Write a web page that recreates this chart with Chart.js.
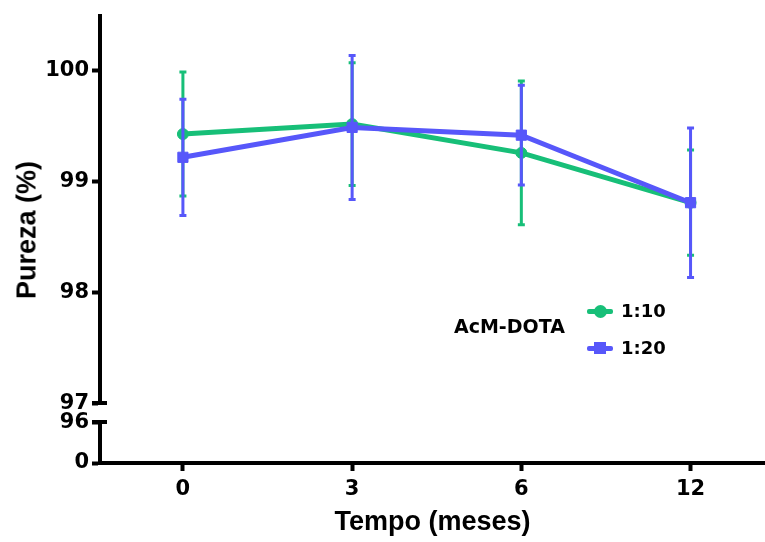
<!DOCTYPE html>
<html><head><meta charset="utf-8">
<script src="https://cdn.jsdelivr.net/npm/chart.js@4/dist/chart.umd.min.js"></script>
<style>
html,body{margin:0;padding:0;background:#fff;}
#wrap{position:relative;width:765px;height:542px;}
canvas{display:block;}
.lg{position:absolute;font-family:'DejaVu Sans',sans-serif;font-weight:bold;font-size:18px;color:#000;line-height:1;white-space:nowrap;}
.sym{position:absolute;}
#ytitle{position:absolute;left:27px;top:230px;transform:translate(-50%,-50%) rotate(-90deg);font-family:'Liberation Sans',Arial,sans-serif;font-weight:bold;font-size:27px;line-height:1;white-space:nowrap;color:#000;}
</style></head><body>
<div id="wrap"><canvas id="c" width="765" height="542"></canvas><div id="legend"></div><div id="ytitle"></div></div>
<script>
// ---- data ----
const categories = ['0', '3', '6', '12'];
const seriesNames = ['1:10', '1:20'];
const legendTitle = 'AcM-DOTA';
const mean110 = [99.43, 99.52, 99.26, 98.81];
const err110  = [0.56, 0.555, 0.65, 0.475];
const mean120 = [99.22, 99.49, 99.42, 98.81];
const err120  = [0.525, 0.65, 0.45, 0.675];
const yUpperTicks = [97, 98, 99, 100];
const yLowerTicks = [0, 96];
const yUpperRange = [97, 100.5];
const yLowerRange = [0, 96];
const xTitle = 'Tempo (meses)';
const yTitle = 'Pureza (%)';

const colors = ['#17bf78', '#5757fa'];
const FONT = "'Liberation Sans', Arial, sans-serif";
const TICKFONT = "'DejaVu Sans', sans-serif";

const errorBars = {
  id: 'errorBars',
  beforeDatasetDraw(chart, args) {
    const ds = chart.data.datasets[args.index];
    const meta = args.meta;
    const xs = chart.scales[meta.xAxisID], ys = chart.scales[meta.yAxisID];
    const ctx = chart.ctx;
    ctx.save();
    ctx.strokeStyle = ds.borderColor;
    ctx.lineWidth = 3;
    ds.data.forEach((p, i) => {
      const e = ds.errors[i];
      const x = xs.getPixelForValue(p.x);
      const yt = ys.getPixelForValue(p.y + e), yb = ys.getPixelForValue(p.y - e);
      ctx.beginPath();
      ctx.moveTo(x, yt); ctx.lineTo(x, yb);
      ctx.moveTo(x - 3.5, yt); ctx.lineTo(x + 3.5, yt);
      ctx.moveTo(x - 3.5, yb); ctx.lineTo(x + 3.5, yb);
      ctx.stroke();
    });
    ctx.restore();
  }
};

const breakCaps = {
  id: 'breakCaps',
  afterDraw(chart) {
    const ctx = chart.ctx;
    const left = chart.chartArea.left;
    const yU = chart.scales.y.getPixelForValue(yUpperRange[0]);
    const yL = chart.scales.yLow.getPixelForValue(yLowerRange[1]);
    ctx.save();
    ctx.strokeStyle = '#000';
    ctx.lineWidth = 4;
    ctx.beginPath();
    ctx.moveTo(left - 8, yU); ctx.lineTo(left + 7, yU);
    ctx.moveTo(left - 8, yL); ctx.lineTo(left + 7, yL);
    ctx.stroke();
    ctx.restore();
  }
};

const tickFont = {family: TICKFONT, size: 21, weight: 'bold'};
const axisGrid = {display: true, drawOnChartArea: false, drawTicks: true, tickLength: 8, tickWidth: 4, color: '#000'};
const axisBorder = {display: true, color: '#000', width: 4};
const Y_W = 54;

const chart = new Chart(document.getElementById('c'), {
  type: 'line',
  data: {
    datasets: [
      {label: seriesNames[0], data: mean110.map((v, i) => ({x: i, y: v})), errors: err110,
       borderColor: colors[0], backgroundColor: colors[0], pointBackgroundColor: colors[0], pointBorderColor: colors[0],
       borderWidth: 5, pointStyle: 'circle', pointRadius: 5.5, pointBorderWidth: 1, tension: 0, yAxisID: 'y', order: 1},
      {label: seriesNames[1], data: mean120.map((v, i) => ({x: i, y: v})), errors: err120,
       borderColor: colors[1], backgroundColor: colors[1], pointBackgroundColor: colors[1], pointBorderColor: colors[1],
       borderWidth: 5, pointStyle: 'rect', pointRadius: 7.2, pointBorderWidth: 1, tension: 0, yAxisID: 'y', order: 0}
    ]
  },
  options: {
    responsive: false,
    animation: false,
    events: [],
    layout: {autoPadding: false, padding: {top: 15, left: 46, right: 0, bottom: 0}},
    plugins: {
      legend: {display: false},
      tooltip: {enabled: false},
      title: {display: false}
    },
    scales: {
      x: {
        type: 'linear', position: 'bottom', min: -0.49, max: 3.44,
        afterBuildTicks: s => { s.ticks = categories.map((c, i) => ({value: i})); },
        ticks: {callback: v => categories[v], font: tickFont, color: '#000', padding: 6, maxRotation: 0, autoSkip: false},
        grid: axisGrid, border: axisBorder,
        title: {display: true, text: xTitle, color: '#000', font: {family: FONT, size: 27, weight: 'bold'}, padding: {top: 3, bottom: 3}},
        afterFit: s => { s.height = 79; }
      },
      yLow: {
        type: 'linear', position: 'left', stack: 'ys', stackWeight: 41,
        min: yLowerRange[0], max: yLowerRange[1],
        afterBuildTicks: s => { s.ticks = yLowerTicks.map(v => ({value: v})); },
        ticks: {font: tickFont, color: '#000', padding: 3, autoSkip: false},
        grid: axisGrid, border: axisBorder,
        afterFit: s => { s.width = Y_W; }
      },
      yGap: {
        type: 'linear', position: 'left', stack: 'ys', stackWeight: 19, min: 0, max: 1,
        ticks: {display: false}, grid: {display: false}, border: {display: false},
        afterFit: s => { s.width = Y_W; }
      },
      y: {
        type: 'linear', position: 'left', stack: 'ys', stackWeight: 388,
        min: yUpperRange[0], max: yUpperRange[1],
        afterBuildTicks: s => { s.ticks = yUpperTicks.map(v => ({value: v})); },
        ticks: {font: tickFont, color: '#000', padding: 3, autoSkip: false},
        grid: axisGrid, border: axisBorder,
        afterFit: s => { s.width = Y_W; }
      }
    }
  },
  plugins: [errorBars, breakCaps]
});

document.getElementById('ytitle').textContent = yTitle;

// ---- HTML legend ----
(function () {
  const lg = document.getElementById('legend');
  const t = document.createElement('div');
  t.className = 'lg'; t.textContent = legendTitle;
  t.style.left = '454px'; t.style.top = '317px'; t.style.fontSize = '19px';
  lg.appendChild(t);
  const rowsY = [311, 348];
  chart.data.datasets.forEach((ds, i) => {
    const cy = rowsY[i];
    const line = document.createElement('div');
    line.className = 'sym';
    Object.assign(line.style, {left: '587px', top: (cy - 2.5) + 'px', width: '26px', height: '5px', background: ds.borderColor, borderRadius: '2px'});
    lg.appendChild(line);
    const mk = document.createElement('div');
    mk.className = 'sym';
    const s = i === 0 ? 13 : 12;
    Object.assign(mk.style, {left: (600 - s / 2) + 'px', top: (cy - s / 2) + 'px', width: s + 'px', height: s + 'px', background: ds.borderColor, borderRadius: i === 0 ? '50%' : '0'});
    lg.appendChild(mk);
    const tx = document.createElement('div');
    tx.className = 'lg'; tx.textContent = ds.label;
    tx.style.left = '621px'; tx.style.top = (cy - 9) + 'px';
    lg.appendChild(tx);
  });
})();
</script>
</body></html>
